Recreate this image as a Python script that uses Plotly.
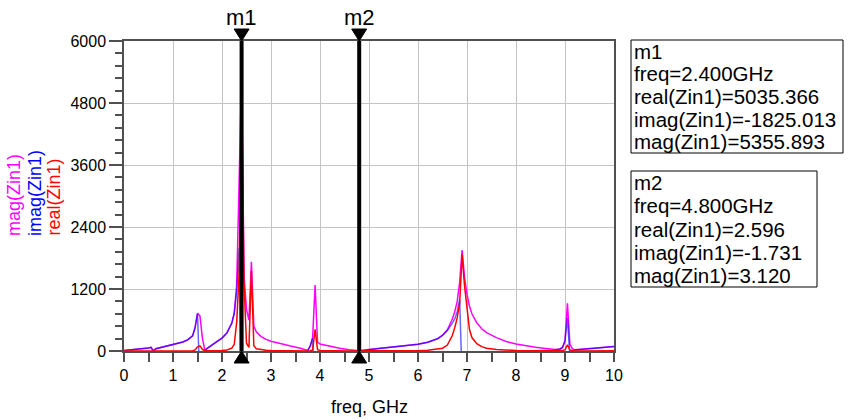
import plotly.graph_objects as go

# ---------------- data ----------------
freq = [0.0, 0.2, 0.4, 0.5, 0.55, 0.6, 0.65, 0.8, 1.0, 1.2, 1.3, 1.4, 1.45, 1.5, 1.55,
        1.6, 1.65, 1.7, 1.8, 1.9, 2.0, 2.1, 2.2, 2.25, 2.3, 2.35, 2.4, 2.45, 2.5, 2.55,
        2.6, 2.65, 2.7, 2.8, 2.9, 3.0, 3.2, 3.4, 3.6, 3.7, 3.75, 3.8, 3.85, 3.9, 3.95,
        4.0, 4.2, 4.4, 4.6, 4.8, 5.0, 5.2, 5.5, 5.8, 6.0, 6.2, 6.4, 6.5, 6.6, 6.7,
        6.75, 6.8, 6.85, 6.9, 6.95, 7.0, 7.05, 7.1, 7.2, 7.3, 7.4, 7.6, 7.8, 8.0, 8.2,
        8.4, 8.6, 8.8, 8.9, 8.95, 9.0, 9.05, 9.1, 9.15, 9.2, 9.4, 9.6, 9.8, 10.0]

mag_zin1 = [10, 25, 45, 60, 72, 8, 45, 80, 125, 175, 215, 295, 450, 730, 680,
            250, 15, 55, 120, 185, 250, 350, 540, 740, 1280, 3300, 5355.893, 1450, 800, 600,
            1728, 480, 370, 280, 225, 190, 135, 95, 55, 28, 12, 95, 260, 1277, 175,
            135, 90, 55, 25, 3.120, 30, 50, 78, 105, 130, 170, 240, 305, 410, 620,
            760, 960, 1330, 1954, 1420, 1100, 870, 720, 545, 430, 355, 258, 185, 135, 100,
            72, 50, 28, 40, 70, 200, 923, 130, 45, 22, 35, 48, 62, 85]

imag_zin1 = [10, 25, 45, 60, 70, -6, 45, 80, 125, 175, 215, 294, 448, 722, -672,
             -248, 12, 55, 120, 185, 249, 348, 535, 725, 1150, 2000, -1825.013, -660, -785, -595,
             -520, -470, -367, -279, -224, -190, -135, -95, -55, -28, 8, 94, 245, -1206, -172,
             -134, -90, -55, -25, -1.731, 30, 50, 78, 105, 130, 169, 237, 300, 395, 540,
             620, 760, 1000, -560, -650, -740, -760, -670, -530, -422, -350, -256, -184, -135, -100,
             -72, -50, 20, 40, 68, 195, 640, -125, -44, 18, 35, 48, 62, 85]

real_zin1 = [0, 0, 1, 2, 10, 5, 1, 1, 1, 2, 3, 5, 20, 80, 100,
             30, 5, 2, 2, 4, 8, 18, 55, 130, 560, 1500, 5035.366, 1290, 150, 70,
             1550, 100, 45, 22, 14, 10, 5, 3, 2, 1, 2, 5, 20, 420, 25,
             10, 4, 2, 2, 2.596, 1, 1, 2, 4, 7, 14, 32, 55, 115, 300,
             450, 640, 930, 1870, 1260, 810, 420, 260, 140, 85, 55, 30, 16, 10, 6,
             4, 3, 3, 4, 8, 25, 120, 20, 5, 3, 2, 2, 3, 5]

marker_names = ["m1", "m2"]
marker_freqs = [2.4, 4.8]
marker_text = [
    ["m1", "freq=2.400GHz", "real(Zin1)=5035.366", "imag(Zin1)=-1825.013", "mag(Zin1)=5355.893"],
    ["m2", "freq=4.800GHz", "real(Zin1)=2.596", "imag(Zin1)=-1.731", "mag(Zin1)=3.120"],
]

x_ticks = list(range(0, 11))
y_ticks = [0, 1200, 2400, 3600, 4800, 6000]

# ---------------- layout geometry (page pixels, body margin removed) ----------------
W, H = 856, 419
L, R, T, B = 124, 614, 41, 351
plot_w, plot_h = R - L, B - T
xmin, xmax = 0, 10
ymin, ymax = 0, 6000
FONT = "Liberation Sans, Arial, sans-serif"

def px_to_paper_x(px):
    return (px - L) / plot_w

def px_to_paper_y(py):
    return (B - py) / plot_h

ghz_per_px = (xmax - xmin) / plot_w

fig = go.Figure()

fig.add_trace(go.Scatter(x=freq, y=mag_zin1, mode="lines",
                         line=dict(color="#ff00ff", width=1.5), name="mag(Zin1)"))
fig.add_trace(go.Scatter(x=freq, y=imag_zin1, mode="lines", opacity=0.6,
                         line=dict(color="#0000ff", width=1.5), name="imag(Zin1)"))
fig.add_trace(go.Scatter(x=freq, y=real_zin1, mode="lines",
                         line=dict(color="#ff0000", width=1.5), name="real(Zin1)"))

shapes = []
annotations = []

# marker lines + triangles + labels
tri_half_w = 7.5 * ghz_per_px
tri_h = 12 / plot_h
for name, f in zip(marker_names, marker_freqs):
    shapes.append(dict(type="line", xref="x", yref="y", x0=f, x1=f, y0=ymin, y1=ymax,
                       line=dict(color="black", width=4), layer="above"))
    shapes.append(dict(type="path", xref="x", yref="paper",
                       path=f"M {f - tri_half_w},{1 + tri_h} L {f + tri_half_w},{1 + tri_h} L {f},1 Z",
                       fillcolor="black", line=dict(color="black", width=1), layer="above"))
    shapes.append(dict(type="path", xref="x", yref="paper",
                       path=f"M {f - tri_half_w},{-tri_h} L {f + tri_half_w},{-tri_h} L {f},0 Z",
                       fillcolor="black", line=dict(color="black", width=1), layer="above"))
    annotations.append(dict(x=f, xref="x", y=px_to_paper_y(18), yref="paper",
                            text=name, showarrow=False, xanchor="center", yanchor="middle",
                            font=dict(family=FONT, size=22, color="black")))

# marker readout boxes
boxes = [(631, 843, 40, 153), (631, 817, 171, 287)]
for (x0, x1, y0, y1), lines in zip(boxes, marker_text):
    shapes.append(dict(type="rect", xref="paper", yref="paper",
                       x0=px_to_paper_x(x0), x1=px_to_paper_x(x1),
                       y0=px_to_paper_y(y1), y1=px_to_paper_y(y0),
                       line=dict(color="black", width=1), fillcolor="white"))
    step = (y1 - y0) / len(lines)
    for i, t in enumerate(lines):
        annotations.append(dict(x=px_to_paper_x(x0 + 1), xref="paper",
                                y=px_to_paper_y(y0 + step * (i + 0.5)), yref="paper",
                                text=t, showarrow=False, xanchor="left", yanchor="middle",
                                font=dict(family=FONT, size=20.5, color="black")))

# y titles (three coloured rotated labels)
ytitles = [("mag(Zin1)", "#ff00ff", 14), ("imag(Zin1)", "#0000ff", 35), ("real(Zin1)", "#ff0000", 53)]
for txt, col, px in ytitles:
    annotations.append(dict(x=px_to_paper_x(px), xref="paper", y=px_to_paper_y(238), yref="paper",
                            text=txt, textangle=-90, showarrow=False,
                            xanchor="center", yanchor="bottom",
                            font=dict(family=FONT, size=18, color=col)))

# x title
annotations.append(dict(x=0.5, xref="paper", y=px_to_paper_y(407), yref="paper",
                        text="freq, GHz", showarrow=False, xanchor="center", yanchor="middle",
                        font=dict(family=FONT, size=18, color="black")))

axis_col = "#505050"
grid_col = "#c4c4c4"

fig.update_layout(
    width=W, height=H,
    margin=dict(l=L, r=W - R, t=T, b=H - B, pad=0),
    paper_bgcolor="white", plot_bgcolor="white",
    showlegend=False,
    shapes=shapes, annotations=annotations,
    xaxis=dict(range=[xmin, xmax], tickvals=x_ticks, ticktext=[str(v) for v in x_ticks],
               showgrid=True, gridcolor=grid_col, gridwidth=1,
               showline=True, linecolor=axis_col, linewidth=1.5, mirror=True,
               ticks="outside", ticklen=9, tickcolor=axis_col, tickwidth=1.5,
               minor=dict(dtick=0.5, ticks="outside", ticklen=9, tickcolor=axis_col, showgrid=False),
               zeroline=False, tickfont=dict(family=FONT, size=16, color="black")),
    yaxis=dict(range=[ymin, ymax], tickvals=y_ticks, ticktext=[str(v) for v in y_ticks],
               showgrid=True, gridcolor=grid_col, gridwidth=1,
               showline=True, linecolor=axis_col, linewidth=1.5, mirror=True,
               ticks="outside", ticklen=13, tickcolor=axis_col, tickwidth=1.5,
               minor=dict(dtick=240, ticks="outside", ticklen=7, tickcolor=axis_col, showgrid=False),
               zeroline=False, tickfont=dict(family=FONT, size=16, color="black")),
)

fig.write_html("out.html", config={"displayModeBar": False},
               post_script="document.body.style.margin='0px';document.body.style.overflow='hidden';")
